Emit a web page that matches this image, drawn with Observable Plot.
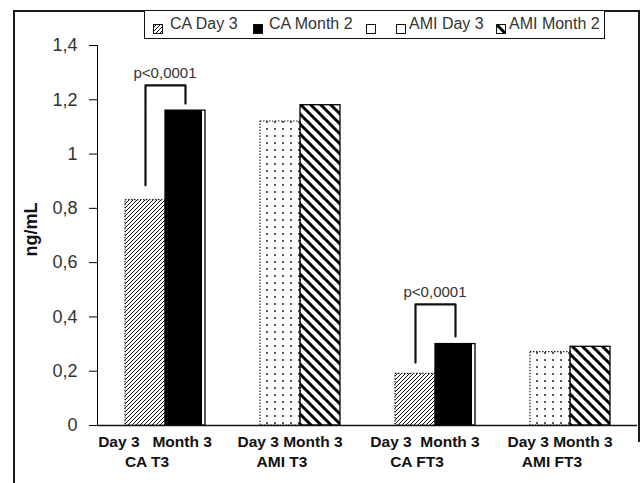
<!DOCTYPE html>
<html>
<head>
<meta charset="utf-8">
<script src="https://cdn.jsdelivr.net/npm/d3@7"></script>
<script src="https://cdn.jsdelivr.net/npm/@observablehq/plot@0.6"></script>
<style>
  body { margin: 0; background: #fff; }
  #wrap { position: relative; width: 640px; height: 483px; overflow: hidden; font-family: "Liberation Sans", Arial, sans-serif; background: #fff; }
  #chart { position: absolute; left: 0; top: 0; }
  .bl { position: absolute; background: #1a1a1a; }
  #legend { position: absolute; left: 144px; top: 10px; width: 461px; height: 29px; border: 1.5px solid #111; box-sizing: border-box; background: #fff; }
  .sw { position: absolute; top: 9px; width: 10px; height: 10px; }
  .lt { position: absolute; top: 3px; font-size: 16px; color: #333; line-height: 20px; white-space: nowrap; }
  #chart g[aria-label="y-axis tick label"], #chart g[aria-label="y-axis tick label"] text { fill: #333; font-size: 18px !important; }
</style>
</head>
<body>
<svg width="0" height="0" style="position:absolute">
  <defs>
    <pattern id="hatchThin" patternUnits="userSpaceOnUse" width="4" height="4">
      <rect width="4" height="4" fill="#fff"/>
      <path d="M-1,1 l2,-2 M0,4 l4,-4 M3,5 l2,-2" stroke="#111" stroke-width="1"/>
    </pattern>
    <pattern id="dots" patternUnits="userSpaceOnUse" width="8" height="7">
      <rect width="8" height="7" fill="#fff"/>
      <circle cx="3" cy="3" r="1" fill="#222"/>
    </pattern>
    <pattern id="hatchBold" patternUnits="userSpaceOnUse" width="10" height="10">
      <rect width="10" height="10" fill="#fff"/>
      <path d="M0,0 L10,10 M-2,8 L2,12 M8,-2 L12,2" stroke="#000" stroke-width="3"/>
    </pattern>
  </defs>
</svg>
<div id="wrap">
  <div id="chart"></div>
  <div class="bl" style="left:13px;top:10px;width:1.5px;height:473px"></div>
  <div class="bl" style="left:13px;top:10px;width:627px;height:1.5px"></div>
  <div class="bl" style="left:638px;top:10px;width:1.5px;height:432px"></div>
  <div id="legend"></div>
</div>
<script>
// ---- data ----
const groups = ["CA T3", "AMI T3", "CA FT3", "AMI FT3"];
const cohorts = ["CA", "AMI", "CA", "AMI"];
const timepoints = ["Day 3", "Month 3"];
const day3Values = [0.83, 1.12, 0.19, 0.27];
const month3Values = [1.16, 1.18, 0.30, 0.29];
const yTicks = [0, 0.2, 0.4, 0.6, 0.8, 1.0, 1.2, 1.4];
const tickRowLabels = ["Day 3\u00a0\u00a0\u00a0Month 3", "Day 3 Month 3", "Day 3\u00a0\u00a0Month 3", "Day 3 Month 3"];
const legendLabels = ["CA Day 3", "CA Month 2", "", "AMI Day 3", "AMI Month 2"];
const yLabel = "ng/mL";
const pLabel = "p<0,0001";
const bracketGroups = ["CA T3", "CA FT3"];
const bracketLeft = [0.885, 0.232];
const bracketTop = [1.253, 0.446];
const bracketRight = [1.186, 0.328];

// ---- styles ----
const fills = {
  CA: {"Day 3": "url(#hatchThin)", "Month 3": "#000"},
  AMI: {"Day 3": "url(#dots)", "Month 3": "url(#hatchBold)"}
};
const legendFills = ["url(#hatchThin)", "#000", "#fff", "#fff", "url(#hatchBold)"];
const legendSwatchLeft = [8, 108, 221, 251, 351];
const legendTextLeft = [25, 124, 238, 264, 364];

// ---- tables ----
const rows = groups.flatMap((g, i) => [
  {group: g, cohort: cohorts[i], time: "Day 3", value: day3Values[i]},
  {group: g, cohort: cohorts[i], time: "Month 3", value: month3Values[i]}
]);
const brackets = bracketGroups.map((g, i) => ({group: g, left: bracketLeft[i], top: bracketTop[i], right: bracketRight[i]}));
const bracketPts = brackets.flatMap(b => [
  {group: b.group, time: "Day 3", value: b.left},
  {group: b.group, time: "Day 3", value: b.top},
  {group: b.group, time: "Month 3", value: b.top},
  {group: b.group, time: "Month 3", value: b.right}
]);
const groupRows = groups.map((g, i) => ({group: g, tick: tickRowLabels[i]}));

const isBlack = d => d.cohort === "CA" && d.time === "Month 3";

const chart = Plot.plot({
  width: 640,
  height: 483,
  marginTop: 45,
  marginBottom: 58,
  marginLeft: 96,
  marginRight: 3,
  style: {fontFamily: "Liberation Sans, Arial, sans-serif", fontSize: "18px", background: "transparent", overflow: "visible"},
  fx: {domain: groups, padding: 0, axis: null},
  x: {domain: timepoints, paddingInner: 0, paddingOuter: 0.65, axis: null},
  y: {domain: [0, 1.4], ticks: yTicks, tickFormat: d => String(+d.toFixed(1)).replace(".", ","), tickSize: 8, tickPadding: 12, line: true, label: null},
  color: {type: "identity"},
  marks: [
    Plot.barY(rows.filter(d => !isBlack(d)), {fx: "group", x: "time", y: "value", fill: d => fills[d.cohort][d.time]}),
    Plot.barY(rows.filter(isBlack), {fx: "group", x: "time", y: "value", fill: "#000", insetRight: 3}),
    Plot.barY(rows.filter(d => d.time === "Day 3"), {fx: "group", x: "time", y: "value", fill: "none", stroke: "#222", strokeWidth: 1.2, strokeDasharray: "1.5,1.5"}),
    Plot.barY(rows.filter(d => d.time === "Month 3"), {fx: "group", x: "time", y: "value", fill: "none", stroke: "#000", strokeWidth: 1.3}),
    Plot.ruleY([0], {stroke: "#111", strokeWidth: 1.5}),
    Plot.line(bracketPts, {fx: "group", x: "time", y: "value", z: "group", stroke: "#111", strokeWidth: 2.2}),
    Plot.text(brackets, {fx: "group", y: "top", text: () => pLabel, dy: -12, fontSize: 15, fill: "#333"}),
    Plot.text(groupRows, {fx: "group", text: "tick", frameAnchor: "bottom", dy: 21, dx: -10, fontSize: 15.5, fontWeight: "bold", fill: "#111"}),
    Plot.text(groupRows, {fx: "group", text: "group", frameAnchor: "bottom", dy: 41, dx: -18, fontSize: 15.5, fontWeight: "bold", fill: "#111"}),
    Plot.text([{group: groups[0]}], {fx: "group", text: () => yLabel, frameAnchor: "left", textAnchor: "middle", dx: -66, dy: -6, rotate: -90, fontSize: 18, fontWeight: "bold", fill: "#111"})
  ]
});
document.getElementById("chart").appendChild(chart);

// ---- legend ----
const legend = document.getElementById("legend");
legendLabels.forEach((lab, i) => {
  const sw = document.createElement("div");
  sw.className = "sw";
  sw.style.left = legendSwatchLeft[i] + "px";
  sw.innerHTML = `<svg width="10" height="10"><rect x="0.5" y="0.5" width="9" height="9" fill="${legendFills[i]}" stroke="#111" stroke-width="1"/></svg>`;
  legend.appendChild(sw);
  if (lab) {
    const t = document.createElement("div");
    t.className = "lt";
    t.style.left = legendTextLeft[i] + "px";
    t.textContent = lab;
    legend.appendChild(t);
  }
});
</script>
</body>
</html>
